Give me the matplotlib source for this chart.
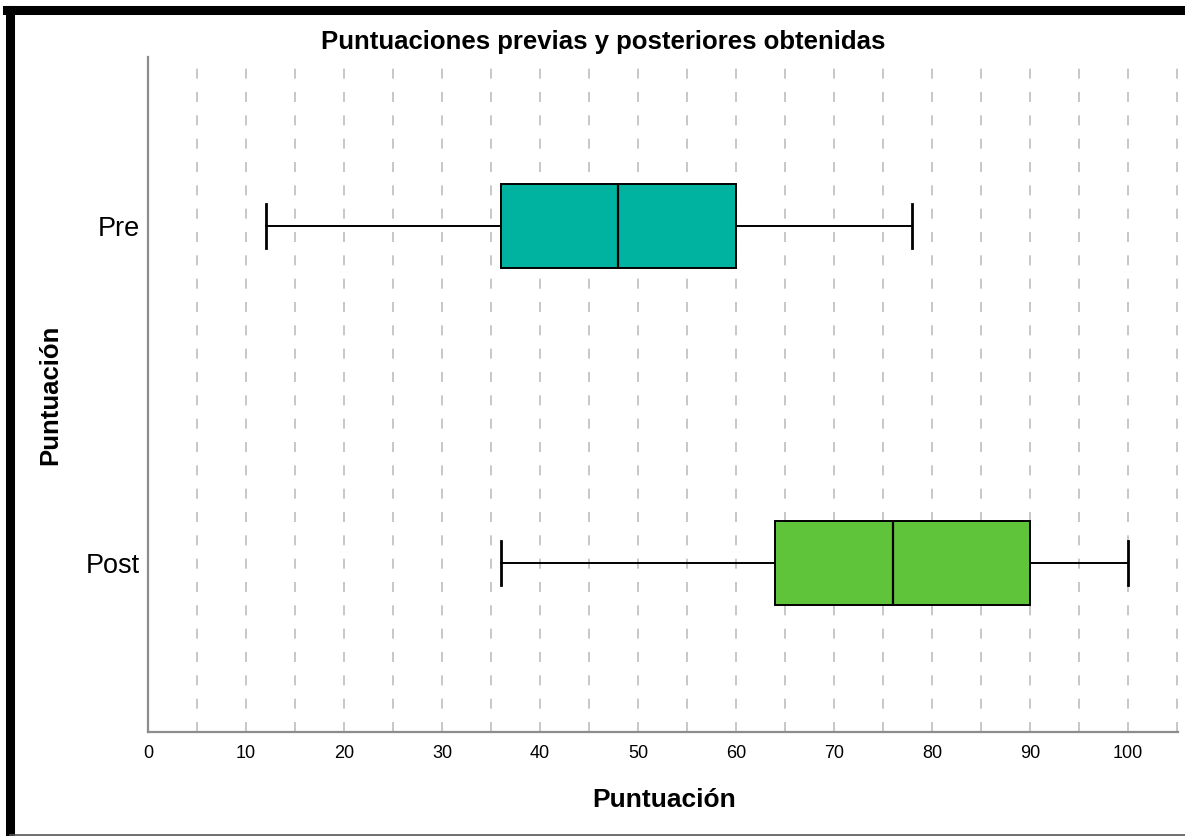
import matplotlib
matplotlib.use("Agg")
import matplotlib.pyplot as plt
from matplotlib.lines import Line2D

plt.rcParams['font.family'] = ['Liberation Sans', 'DejaVu Sans']

# Five-number summaries per group
groups = ["Pre", "Post"]
whisker_low = [12, 36]
q1 = [36, 64]
median = [48, 76]
q3 = [60, 90]
whisker_high = [78, 100]
box_colors = ["#00B3A0", "#60C43A"]

x_ticks = [0, 10, 20, 30, 40, 50, 60, 70, 80, 90, 100]

W, H = 1185, 836
fig = plt.figure(figsize=(W / 100, H / 100), dpi=100)
ax = fig.add_axes([148 / W, 1 - 732 / H, (1178 - 148) / W, (732 - 57) / H])

stats = []
for i, g in enumerate(groups):
    stats.append(dict(label=g, whislo=whisker_low[i], q1=q1[i], med=median[i],
                      q3=q3[i], whishi=whisker_high[i], fliers=[]))

bp = ax.bxp(stats, positions=range(len(groups)), orientation="horizontal",
            widths=0.25, patch_artist=True, showfliers=False,
            boxprops=dict(edgecolor="black", linewidth=1.4),
            medianprops=dict(color="black", linewidth=1.6),
            whiskerprops=dict(color="black", linewidth=1.4),
            capprops=dict(color="black", linewidth=2.0),
            capwidths=0.13, zorder=3)
for patch, c in zip(bp["boxes"], box_colors):
    patch.set_facecolor(c)

ax.set_xlim(0, 105.1)
ax.set_ylim(1.5, -0.5)
ax.set_xticks(x_ticks)
ax.tick_params(axis="x", which="both", length=0, labelsize=13, pad=9)
ax.tick_params(axis="y", length=0, labelsize=19.5, pad=5.5)
ax.set_yticks(range(len(groups)))
ax.set_yticklabels(groups)

for xv in range(5, 106, 5):
    ax.axvline(xv, color="#BDBDBD", linestyle=(0, (6, 8)), linewidth=1.2, zorder=1)

for side in ["top", "right"]:
    ax.spines[side].set_visible(False)
for side in ["left", "bottom"]:
    ax.spines[side].set_color("#8C8C8C")
    ax.spines[side].set_linewidth(1.6)

fig.text(603 / W, 1 - 42 / H, "Puntuaciones previas y posteriores obtenidas",
         ha="center", va="center", fontsize=18.5, fontweight="bold")
fig.text(664 / W, 1 - 800 / H, "Puntuación", ha="center", va="center",
         fontsize=19, fontweight="bold")
fig.text(50 / W, 1 - 395 / H, "Puntuación", ha="center", va="center",
         rotation=90, fontsize=18.5, fontweight="bold")

# Frame around the figure
fig.add_artist(Line2D([10 / W, 10 / W], [1 - 10 / H, 0], transform=fig.transFigure,
                      color="black", linewidth=6.5))
fig.add_artist(Line2D([7 / W, 1], [1 - 10 / H, 1 - 10 / H], transform=fig.transFigure,
                      color="black", linewidth=6.5))
fig.add_artist(Line2D([10 / W, 1], [1 - 834.5 / H, 1 - 834.5 / H], transform=fig.transFigure,
                      color="#555555", linewidth=1.2))

fig.savefig("out.png", dpi=100)
